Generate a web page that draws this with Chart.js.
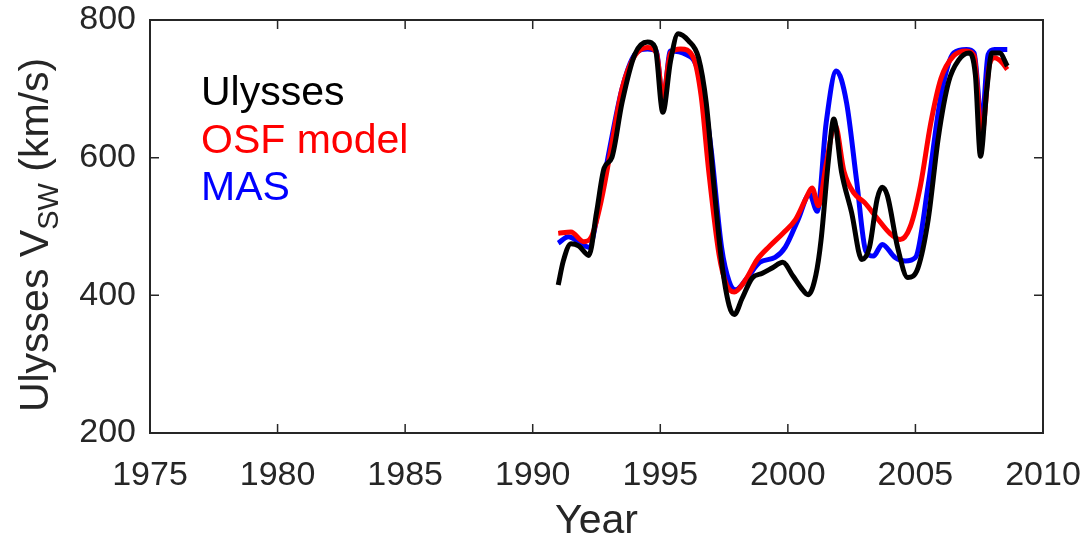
<!DOCTYPE html>
<html>
<head>
<meta charset="utf-8">
<script src="https://cdn.jsdelivr.net/npm/chart.js@4"></script>
<style>
  body { margin: 0; background: #fff; }
  canvas { display: block; }
</style>
</head>
<body>
<canvas id="myChart" width="1084" height="541"></canvas>
<script>
// data
const ulyssesYears = [1991.0, 1991.2, 1991.5, 1991.8, 1992.2, 1992.5, 1992.8, 1993.1, 1993.5, 1994.0, 1994.5, 1994.8, 1995.1, 1995.4, 1995.7, 1996.1, 1996.5, 1996.8, 1997.1, 1997.4, 1997.7, 1997.9, 1998.2, 1998.6, 1999.0, 1999.4, 1999.8, 2000.2, 2000.5, 2000.8, 2001.1, 2001.3, 2001.6, 2001.8, 2002.1, 2002.5, 2002.9, 2003.2, 2003.5, 2003.7, 2003.9, 2004.3, 2004.7, 2005.1, 2005.5, 2005.9, 2006.3, 2006.7, 2007.1, 2007.35, 2007.55, 2007.8, 2008.0, 2008.3, 2008.6];
const ulyssesVsw = [415, 450, 475, 472, 458, 520, 585, 600, 680, 750, 768, 760, 666, 740, 780, 770, 745, 680, 560, 450, 385, 372, 395, 425, 432, 440, 448, 428, 412, 401, 430, 480, 600, 656, 580, 520, 452, 470, 540, 557, 545, 470, 426, 440, 510, 630, 710, 742, 752, 720, 602, 700, 752, 752, 733];

const osfYears = [1991.0, 1991.5, 1992.0, 1992.3, 1992.7, 1993.1, 1993.5, 1994.0, 1994.5, 1994.85, 1995.1, 1995.4, 1995.8, 1996.3, 1996.6, 1996.9, 1997.3, 1997.6, 1997.9, 1998.3, 1998.8, 1999.3, 1999.8, 2000.3, 2000.7, 2000.95, 2001.2, 2001.5, 2001.85, 2002.2, 2002.6, 2003.0, 2003.5, 2004.0, 2004.4, 2004.8, 2005.2, 2005.6, 2006.0, 2006.5, 2007.0, 2007.3, 2007.6, 2007.9, 2008.1, 2008.4, 2008.6];
const osfVsw = [490, 492, 478, 485, 540, 620, 700, 748, 760, 752, 688, 752, 758, 745, 690, 580, 460, 415, 405, 420, 452, 472, 490, 510, 540, 556, 530, 590, 648, 580, 548, 535, 512, 490, 481, 500, 560, 650, 715, 748, 755, 748, 633, 735, 745, 738, 728];

const masYears = [1991.0, 1991.4, 1991.8, 1992.2, 1992.6, 1993.0, 1993.5, 1994.0, 1994.5, 1994.85, 1995.1, 1995.4, 1996.0, 1996.4, 1996.7, 1997.0, 1997.4, 1997.7, 1997.95, 1998.4, 1998.9, 1999.5, 1999.9, 2000.4, 2000.85, 2001.15, 2001.5, 2001.9, 2002.3, 2002.7, 2003.05, 2003.35, 2003.7, 2004.2, 2004.6, 2005.0, 2005.5, 2006.0, 2006.5, 2007.0, 2007.3, 2007.6, 2007.85, 2008.1, 2008.6];
const masVsw = [476, 485, 478, 470, 530, 610, 700, 750, 758, 755, 680, 755, 750, 735, 690, 610, 470, 420, 408, 425, 448, 455, 470, 510, 547, 522, 650, 726, 680, 565, 465, 457, 474, 455, 450, 455, 560, 690, 752, 757, 752, 650, 750, 757, 757];

const xTicks = [1975, 1980, 1985, 1990, 1995, 2000, 2005, 2010];
const yTicks = [200, 400, 600, 800];

const seriesNames = ['Ulysses', 'OSF model', 'MAS'];
const seriesColors = ['#000000', '#ff0000', '#0000ff'];

function toPoints(xs, ys) {
  return xs.map((x, i) => ({ x: x, y: ys[i] }));
}

const axisColor = '#262626';
const fontName = '"Liberation Sans", Arial, sans-serif';

// box, inward ticks, legend text and axis titles
const decorPlugin = {
  id: 'decor',
  afterDraw(chart) {
    const ctx = chart.ctx;
    const a = chart.chartArea;
    const xs = chart.scales.x;
    const ys = chart.scales.y;
    ctx.save();
    ctx.strokeStyle = axisColor;
    ctx.lineWidth = 2;
    ctx.strokeRect(a.left, a.top, a.right - a.left, a.bottom - a.top);
    ctx.lineWidth = 1.5;
    ctx.beginPath();
    xTicks.forEach(v => {
      const p = xs.getPixelForValue(v);
      ctx.moveTo(p, a.bottom); ctx.lineTo(p, a.bottom - 9);
      ctx.moveTo(p, a.top); ctx.lineTo(p, a.top + 9);
    });
    yTicks.forEach(v => {
      const p = ys.getPixelForValue(v);
      ctx.moveTo(a.left, p); ctx.lineTo(a.left + 9, p);
      ctx.moveTo(a.right, p); ctx.lineTo(a.right - 9, p);
    });
    ctx.stroke();

    // legend
    ctx.font = '41px ' + fontName;
    ctx.textAlign = 'left';
    ctx.textBaseline = 'alphabetic';
    seriesNames.forEach((name, i) => {
      ctx.fillStyle = seriesColors[i];
      ctx.fillText(name, 201, 105 + i * 47.5);
    });

    // x title
    ctx.fillStyle = axisColor;
    ctx.textAlign = 'center';
    ctx.fillText('Year', (a.left + a.right) / 2, 533);

    // y title with subscript
    ctx.translate(48, 235);
    ctx.rotate(-Math.PI / 2);
    const part1 = 'Ulysses V';
    const sub = 'SW';
    const part2 = ' (km/s)';
    ctx.font = '41px ' + fontName;
    const w1 = ctx.measureText(part1).width;
    const w3 = ctx.measureText(part2).width;
    ctx.font = '29px ' + fontName;
    const w2 = ctx.measureText(sub).width;
    let x0 = -(w1 + w2 + w3) / 2;
    ctx.textAlign = 'left';
    ctx.font = '41px ' + fontName;
    ctx.fillText(part1, x0, 0);
    ctx.font = '29px ' + fontName;
    ctx.fillText(sub, x0 + w1, 10);
    ctx.font = '41px ' + fontName;
    ctx.fillText(part2, x0 + w1 + w2, 0);
    ctx.restore();
  }
};

const ctx = document.getElementById('myChart').getContext('2d');
const chart = new Chart(ctx, {
  type: 'line',
  data: {
    datasets: [
      { label: seriesNames[0], data: toPoints(ulyssesYears, ulyssesVsw), borderColor: seriesColors[0] },
      { label: seriesNames[1], data: toPoints(osfYears, osfVsw), borderColor: seriesColors[1] },
      { label: seriesNames[2], data: toPoints(masYears, masVsw), borderColor: seriesColors[2] }
    ]
  },
  options: {
    responsive: false,
    animation: false,
    elements: {
      point: { radius: 0 },
      line: { borderWidth: 5, cubicInterpolationMode: 'monotone', fill: false }
    },
    layout: { padding: { left: 0, right: 41, top: 20, bottom: 0 } },
    plugins: {
      legend: { display: false },
      tooltip: { enabled: false }
    },
    scales: {
      x: {
        type: 'linear',
        min: 1975,
        max: 2010,
        afterFit(scale) {
          scale.height = 108;
          scale.paddingLeft = 0;
          scale.paddingRight = 0;
        },
        afterBuildTicks(scale) { scale.ticks = xTicks.map(v => ({ value: v })); },
        grid: { display: false, drawTicks: false },
        border: { display: false },
        ticks: {
          color: axisColor,
          padding: 22,
          font: { family: fontName, size: 34 },
          maxRotation: 0,
          callback: v => String(v)
        }
      },
      y: {
        min: 200,
        max: 800,
        afterFit(scale) {
          scale.width = 150;
          scale.paddingTop = 0;
          scale.paddingBottom = 0;
        },
        afterBuildTicks(scale) { scale.ticks = yTicks.map(v => ({ value: v })); },
        grid: { display: false, drawTicks: false },
        border: { display: false },
        ticks: {
          color: axisColor,
          padding: 14,
          font: { family: fontName, size: 34 },
          callback: v => String(v)
        }
      }
    }
  },
  plugins: [decorPlugin]
});
</script>
</body>
</html>
